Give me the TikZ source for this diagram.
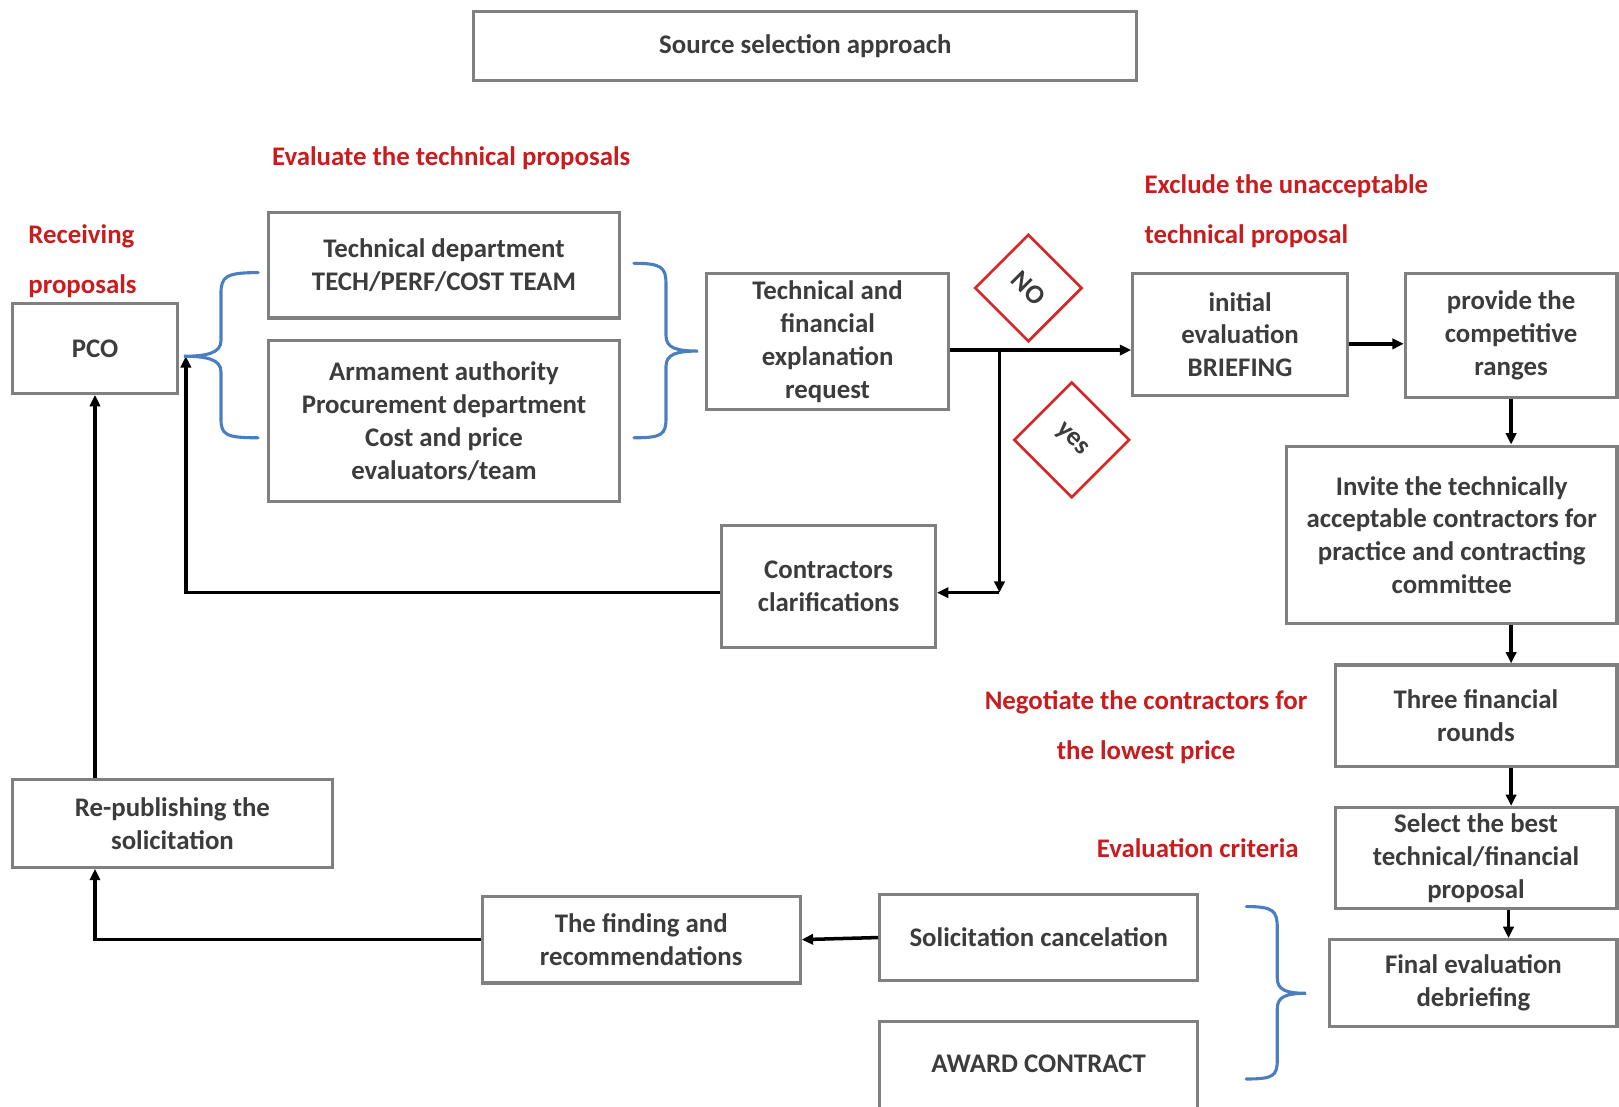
\documentclass[tikz,border=0pt]{standalone}
\usepackage{fontspec}
\setmainfont{Carlito}
\usetikzlibrary{arrows.meta,shapes.geometric,calc}
\definecolor{txtgray}{RGB}{60,60,60}
\definecolor{boxgray}{RGB}{128,128,128}
\definecolor{notered}{RGB}{200,28,30}
\definecolor{bracblue}{RGB}{74,126,193}
\definecolor{decred}{RGB}{214,40,40}
\tikzset{
  boxtext/.style={font=\fontsize{26}{31.7}\selectfont\bfseries, text=txtgray, align=center},
  stepbox/.style={boxtext, draw=boxgray, line width=3pt, fill=white, inner sep=2pt},
  note/.style={font=\fontsize{26}{48}\selectfont\bfseries, text=notered},
  % a square turned by -45 degrees: a diamond with its label along the diagonal
  decision/.style={boxtext, rectangle, draw=decred, line width=2.6pt, inner sep=0pt, fill=white, rotate=-45},
  flow/.style={draw=black, line width=3.4pt, -{Triangle[length=11pt,width=10pt]}},
  brace/.style={draw=bracblue, line width=3pt, line cap=round}
}
\begin{document}
\begin{tikzpicture}[x=1pt,y=-1pt]
\useasboundingbox (0,0) rectangle (1568,1072);
\clip (0,0) rectangle (1568,1072);

% title
\node[stepbox, minimum width=642pt, minimum height=67pt] (title) at (780,44.5) {Source selection approach};

% annotations
\node[note, anchor=west] (evtech) at (260,153) {Evaluate the technical proposals};
\node[note, anchor=west, align=left] (recv) at (24,253) {Receiving\\proposals};
\node[note, anchor=west, align=left] (excl) at (1105,204.5) {Exclude the unacceptable\\technical proposal};
\node[note, align=center] (nego) at (1110,704) {Negotiate the contractors for\\the lowest price};
\node[note] (crit) at (1160,821) {Evaluation criteria};

% process boxes
\node[stepbox, minimum width=160pt, minimum height=87pt] (pco) at (92,337.5) {PCO};
\node[stepbox, minimum width=340pt, minimum height=102pt] (tech) at (430,257) {Technical department\\TECH/PERF/COST TEAM};
\node[stepbox, minimum width=340pt, minimum height=156pt] (arm) at (430,408) {Armament authority\\Procurement department\\Cost and price\\evaluators/team};
\node[stepbox, minimum width=235pt, minimum height=132pt] (tfr) at (801.5,331) {Technical and\\financial\\explanation\\request};
\node[stepbox, minimum width=208pt, minimum height=118pt] (init) at (1201,324) {initial\\evaluation\\BRIEFING};
\node[stepbox, minimum width=205pt, minimum height=120pt] (prov) at (1463.5,325) {provide the\\competitive\\ranges};
\node[stepbox, minimum width=320pt, minimum height=172pt] (invite) at (1406,518) {Invite the technically\\acceptable contractors for\\practice and contracting\\committee};
\node[stepbox, minimum width=273pt, minimum height=98pt] (three) at (1429.5,693) {Three financial\\rounds};
\node[stepbox, minimum width=273pt, minimum height=98pt] (select) at (1429.5,831) {Select the best\\technical/financial\\proposal};
\node[stepbox, minimum width=278pt, minimum height=84pt] (final) at (1427,952) {Final evaluation\\debriefing};
\node[stepbox, minimum width=207pt, minimum height=118pt] (clar) at (802.5,568) {Contractors\\clarifications};
\node[stepbox, minimum width=310pt, minimum height=85pt] (repub) at (167,797.5) {Re-publishing the\\solicitation};
\node[stepbox, minimum width=308pt, minimum height=84pt] (finding) at (621,910) {The finding and\\recommendations};
\node[stepbox, minimum width=308pt, minimum height=84pt] (cancel) at (1006,908) {Solicitation cancelation};
\node[stepbox, minimum width=308pt, minimum height=120pt, anchor=north] (award) at (1006,988) {};
\node[boxtext] (awardtxt) at (1006,1030) {AWARD CONTRACT};

% decisions
\node[decision, minimum size=72.8pt] (no) at (996,279) {NO};
\node[decision, minimum size=78.5pt] (yes) at (1038,426) {yes};

% connector points
\coordinate (split) at (968,339);
\coordinate (turn) at (968,574);
\coordinate (pcoin) at (180,345);
\coordinate (initout) at ([yshift=-9pt]init.east);
\coordinate (lane) at (1461,0);

% connectors
\draw[flow] (tfr.east |- split) -- (init.west |- split);
\draw[flow] (split) -- (turn);
\draw[flow] (turn) -- (clar.east |- turn);
\draw[flow] (clar.west |- turn) -| (pcoin);
\draw[flow] (pco.south |- repub.north) -- (pco.south);
\draw[flow] (finding.west) -| (pco.south |- repub.south);
\draw[flow] (cancel.west) -- (finding.east);
\draw[flow] (initout) -- (prov.west |- initout);
\draw[flow] (prov.south) -- (prov.south |- invite.north);
\draw[flow] (invite.south -| prov.south) -- (three.north -| prov.south);
\draw[flow] (three.south -| prov.south) -- (select.north -| prov.south);
\draw[flow] (select.south -| lane) -- (final.north -| lane);

% braces
\draw[brace] (250,264) .. controls (218,264) and (214,268) .. (214,285) -- (214,330)
  .. controls (214,342) and (200,345) .. (178,345)
  .. controls (200,345) and (214,348) .. (214,360) -- (214,405)
  .. controls (214,421) and (218,424) .. (250,424);
\draw[brace] (614,255) .. controls (641,255) and (645,259) .. (645,275) -- (645,325)
  .. controls (645,337) and (655,340) .. (676,340)
  .. controls (655,340) and (645,343) .. (645,355) -- (645,405)
  .. controls (645,421) and (641,424) .. (614,424);
\draw[brace] (1207,878) .. controls (1233,878) and (1237,882) .. (1237,898) -- (1237,947)
  .. controls (1237,959) and (1246,962) .. (1265,962)
  .. controls (1246,962) and (1237,965) .. (1237,977) -- (1237,1027)
  .. controls (1237,1042) and (1233,1045) .. (1207,1045);
\end{tikzpicture}
\end{document}
